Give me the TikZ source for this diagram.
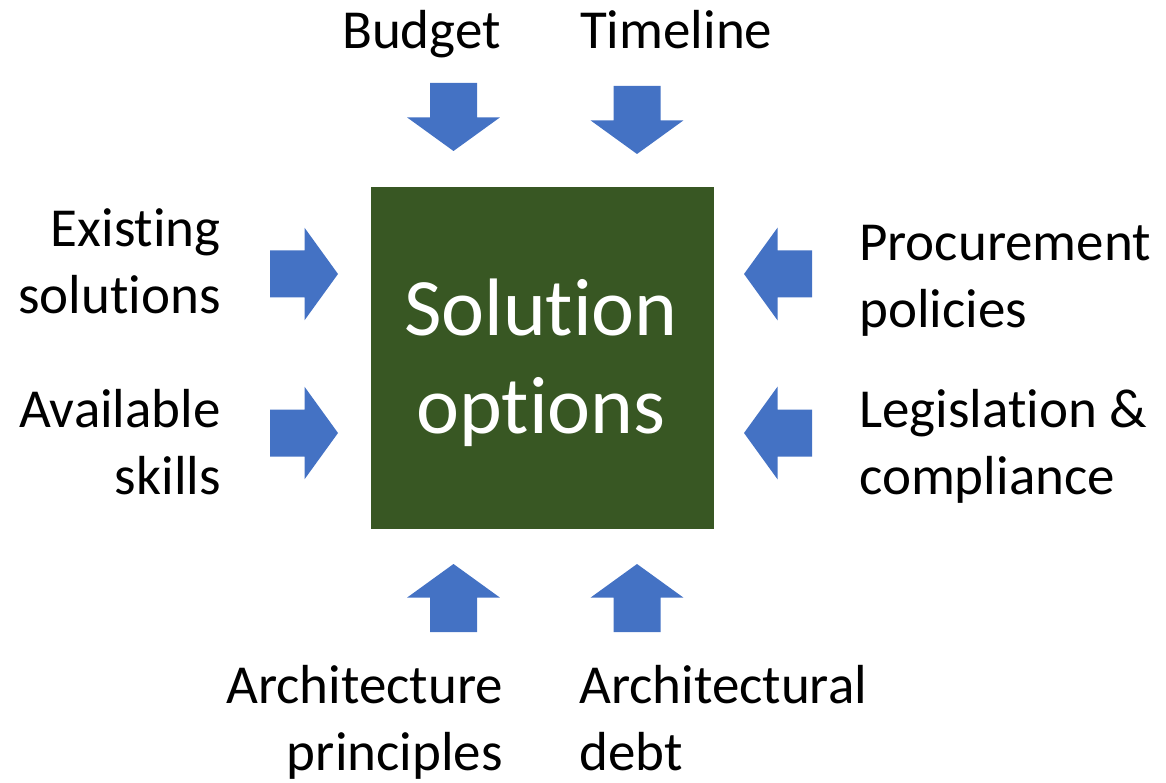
\documentclass[tikz,border=0pt]{standalone}
\usepackage{fontspec}
\setmainfont{Carlito}[Ligatures=NoCommon]
\definecolor{arrowblue}{HTML}{4472C4}
\definecolor{boxgreen}{HTML}{385723}
\tikzset{
  blockarrow/.pic={\fill[arrowblue] (0,-23.5) -- (34.5,-23.5) -- (34.5,-46.3) -- (68,0) -- (34.5,46.3) -- (34.5,23.5) -- (0,23.5) -- cycle;},
  lbl/.style={inner sep=0pt, font=\fontsize{55}{67}\selectfont, text=black},
  solbox/.style={fill=boxgreen, draw=none, minimum width=343pt, minimum height=342pt, inner sep=0pt},
  soltext/.style={inner sep=0pt, font=\fontsize{81.5}{98}\selectfont, text=white}
}
\newcommand{\rlines}[2]{\begin{tabular}[t]{@{}r@{}}#1\\#2\end{tabular}}
\newcommand{\llines}[2]{\begin{tabular}[t]{@{}l@{}}#1\\#2\end{tabular}}
\begin{document}
\begin{tikzpicture}[x=1pt,y=-1pt]
\useasboundingbox (0,0) rectangle (1166,783);
% central box
\node[solbox] (sol) at (542.5,358) {};
\node[soltext, anchor=base] (soltxt) at (541,335) {\begin{tabular}[t]{@{}c@{}}Solution\\options\end{tabular}};
% arrows
\pic at (453.5,83) [rotate=-90] {blockarrow};
\pic at (637,86) [rotate=-90] {blockarrow};
\pic at (270,274) {blockarrow};
\pic at (270,433) {blockarrow};
\pic at (812,274) [rotate=180] {blockarrow};
\pic at (812,433) [rotate=180] {blockarrow};
\pic at (453.5,632) [rotate=90] {blockarrow};
\pic at (637,632) [rotate=90] {blockarrow};
% labels
\node[lbl, anchor=base east] (budget) at (501,49) {Budget};
\node[lbl, anchor=base west] (timeline) at (580,49) {Timeline};
\node[lbl, anchor=base east] (existing) at (221,247) {\rlines{Existing}{solutions}};
\node[lbl, anchor=base east] (skills) at (221,427) {\rlines{Available}{skills}};
\node[lbl, anchor=base west] (procure) at (859,261) {\llines{Procurement}{policies}};
\node[lbl, anchor=base west] (legis) at (859,427) {\llines{Legislation \&}{compliance}};
\node[lbl, anchor=base east] (archp) at (503,703) {\rlines{Architecture}{principles}};
\node[lbl, anchor=base west] (archd) at (579,703) {\llines{Architectural}{debt}};
\end{tikzpicture}
\end{document}
